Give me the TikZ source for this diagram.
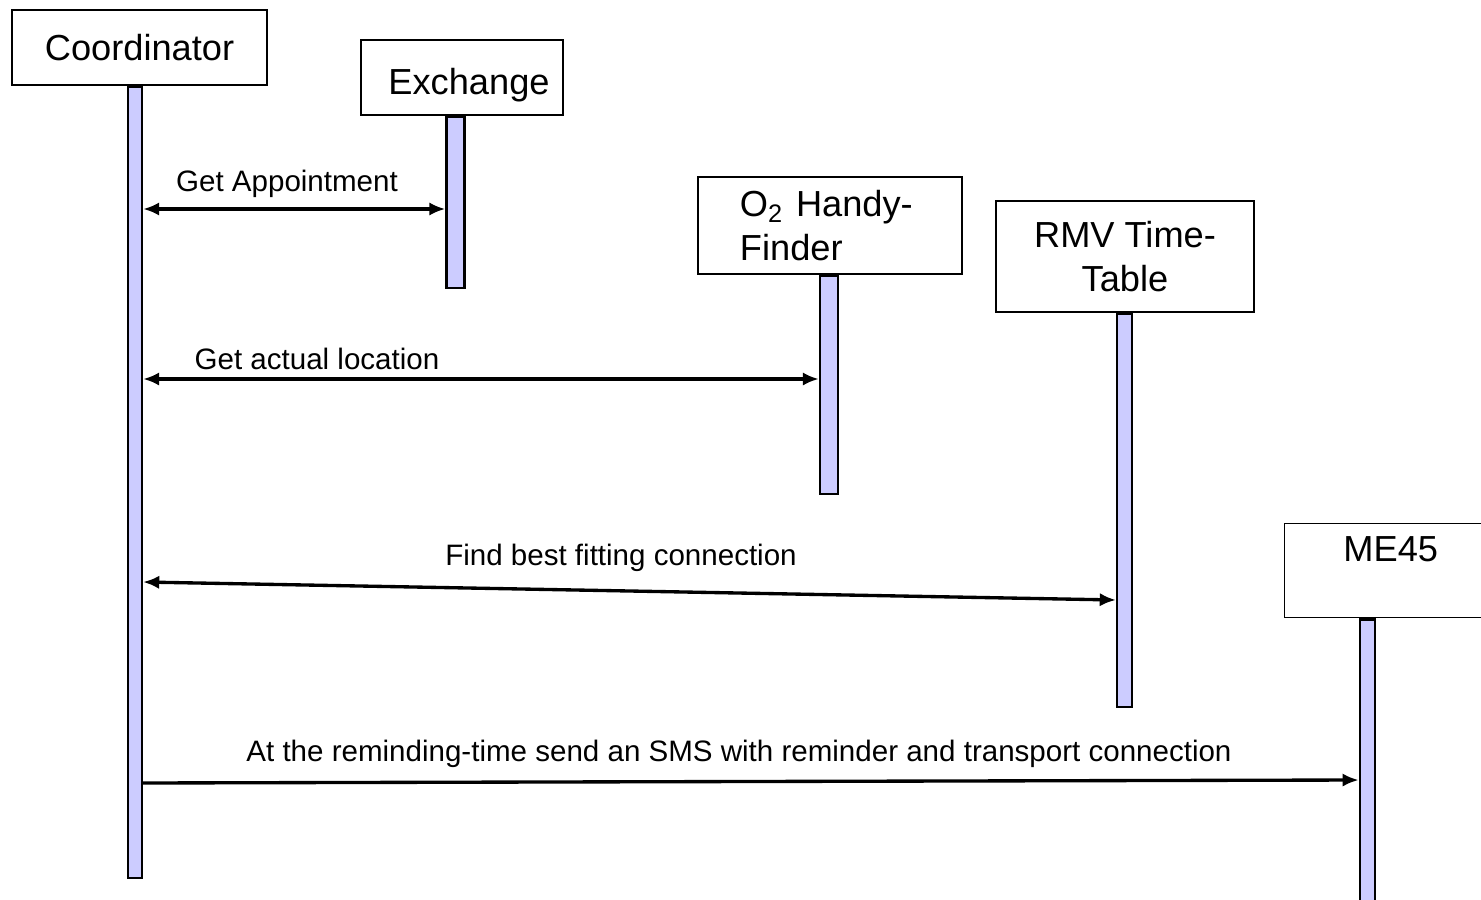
\documentclass[tikz,border=0pt]{standalone}
\usepackage{fontspec}
\setmainfont{Liberation Sans}
\usetikzlibrary{positioning,arrows.meta}
\tikzstyle{actor} = [draw, rectangle, fill=white, inner sep=0pt, font=\fontsize{10.3}{12.4}\selectfont]
\tikzstyle{life} = [draw, semithick, rectangle, fill=blue!20, inner sep=0pt]
\tikzstyle{msg} = [inner sep=0pt, font=\fontsize{8.4}{10}\selectfont]
\tikzstyle{both} = [draw, line width=0.95pt, {Latex[length=4.6pt,width=3.8pt]}-{Latex[length=4.6pt,width=3.8pt]}]
\tikzstyle{line} = [draw, line width=0.95pt, -{Latex[length=4.6pt,width=3.8pt]}]

\begin{document}
\begin{tikzpicture}[x=0.01cm, y=-0.01cm]
    \useasboundingbox (0,0) rectangle (1481,900);
    % Place nodes
    \node [actor, minimum width=2.55cm, minimum height=0.75cm] (coordinator) at (139.5,47.5) {Coordinator};
    \node [actor, minimum width=2.02cm, minimum height=0.75cm, text height=0.42cm] (exchange) at (462,77.5) {\hspace*{0.14cm}Exchange};
    \node [actor, minimum width=2.64cm, minimum height=0.97cm, text width=1.8cm, align=left] (finder) at (830,225.5) {O\textsubscript{2} Handy-\\Finder};
    \node [actor, minimum width=2.58cm, minimum height=1.11cm, align=center] (timetable) at (1125,256.5) {RMV Time-\\Table};
    \node [actor, anchor=north west, minimum width=2.12cm, minimum height=0.94cm, text depth=0.44cm] (phone) at (1284,523) {ME45};
    % Lifelines
    \node [life, below=0pt of coordinator, xshift=-0.045cm, minimum width=0.14cm, minimum height=7.91cm] (coordinator-life) {};
    \node [life, below=0pt of exchange, xshift=-0.065cm, minimum width=0.18cm, minimum height=1.71cm] (exchange-life) {};
    \node [life, below=0pt of finder, xshift=-0.01cm, minimum width=0.18cm, minimum height=2.18cm] (finder-life) {};
    \node [life, below=0pt of timetable, xshift=-0.005cm, minimum width=0.15cm, minimum height=3.93cm] (timetable-life) {};
    \node [life, below=0pt of phone, xshift=-0.235cm, minimum width=0.15cm, minimum height=3cm] (phone-life) {};
    % Messages
    \node [msg] (appointment-msg) at (287,184) {Get Appointment};
    \node [msg] (location-msg) at (317,359) {Get actual location};
    \node [msg] (connection-msg) at (621,558) {Find best fitting connection};
    \node [msg] (sms-msg) at (739,754) {At the reminding-time send an SMS with reminder and transport connection};
    % Draw edges
    \path [both] (coordinator-life.east |- 0,209) -- (exchange-life.west |- 0,209);
    \path [both] (coordinator-life.east |- 0,379) -- (finder-life.west |- 0,379);
    \path [both] (coordinator-life.east |- 0,582) -- (timetable-life.west |- 0,600);
    \path [line] (coordinator-life.east |- 0,783) -- (phone-life.west |- 0,780);
\end{tikzpicture}
\end{document}
